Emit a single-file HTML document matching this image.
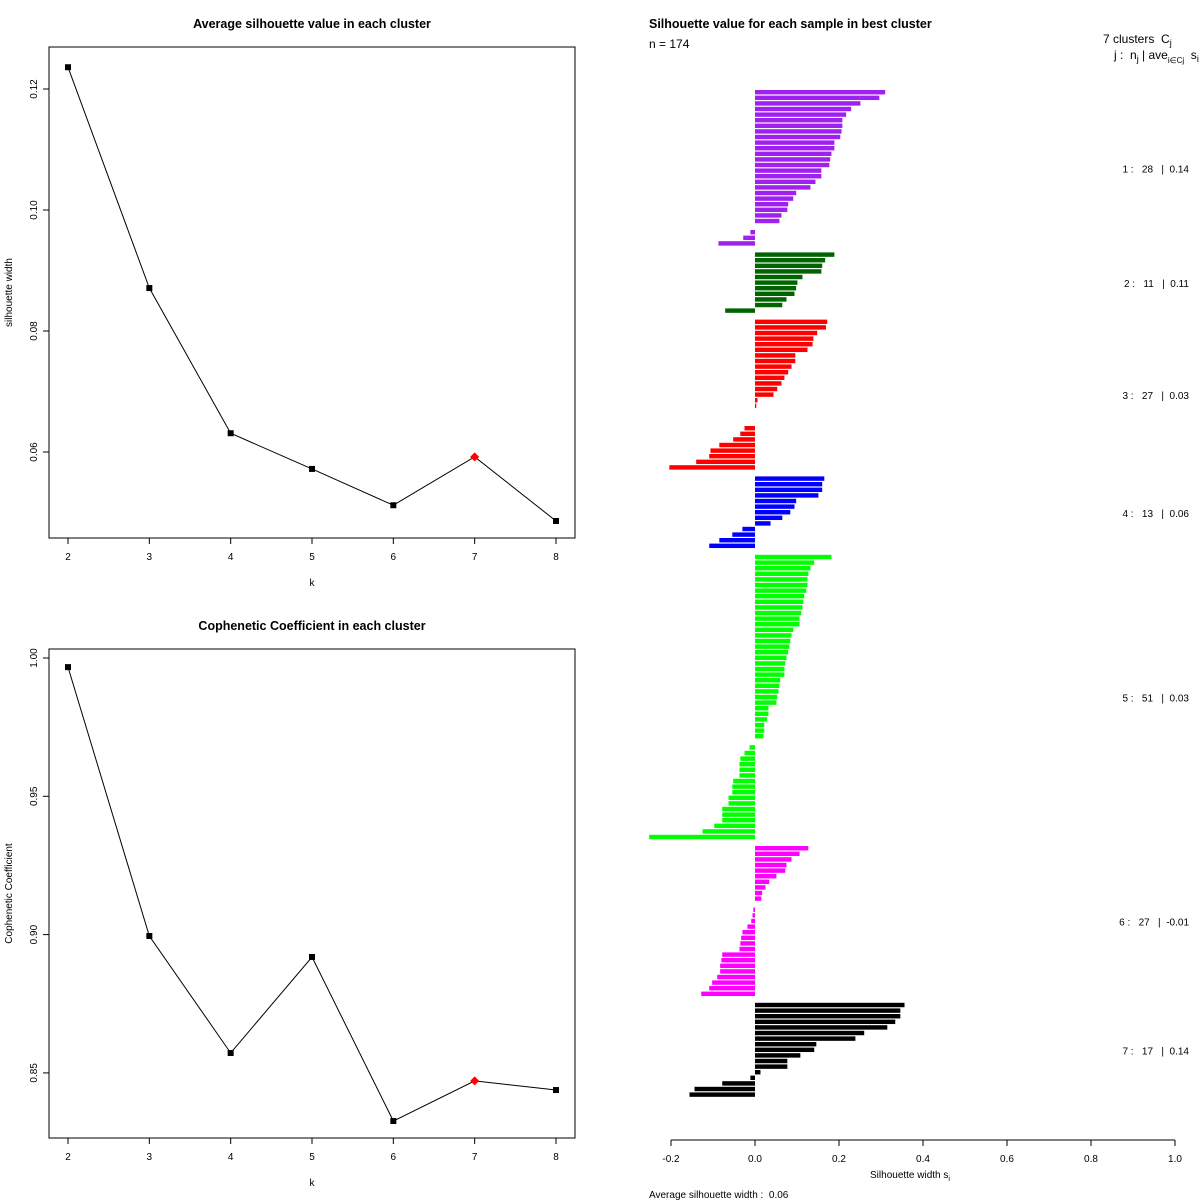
<!DOCTYPE html>
<html><head><meta charset="utf-8"><style>
html,body{margin:0;padding:0;background:#fff;}
svg{display:block;font-family:"Liberation Sans",sans-serif;}
text{white-space:pre;}
</style></head><body>
<svg id="chart" width="1200" height="1200" xmlns="http://www.w3.org/2000/svg"></svg>
<script>
// ---- data: average silhouette by k ----
const kValues = [2,3,4,5,6,7,8];
const silAvg = [0.1236,0.0871,0.0631,0.0572,0.0512,0.0592,0.0486];
const copheneticCoef = [0.9967,0.8995,0.8572,0.8919,0.8326,0.8471,0.8438];
const bestK = 7;
const silTicks = [0.06,0.08,0.10,0.12];
const copTicks = [0.85,0.90,0.95,1.00];
// ---- data: silhouette widths per cluster ----
const clusterIds = [1,2,3,4,5,6,7];
const clusterColors = ["#a020f0","#006400","#ff0000","#0000ff","#00ff00","#ff00ff","#000000"];
const clusterAvg = ["0.14","0.11","0.03","0.06","0.03","-0.01","0.14"];
const sil1 = [0.310,0.296,0.251,0.229,0.217,0.208,0.208,0.206,0.203,0.189,0.189,0.182,0.179,0.177,0.158,0.158,0.144,0.132,0.098,0.091,0.079,0.077,0.063,0.058,0,-0.011,-0.028,-0.087];
const sil2 = [0.189,0.167,0.160,0.158,0.113,0.101,0.098,0.094,0.075,0.065,-0.071];
const sil3 = [0.172,0.169,0.148,0.139,0.137,0.125,0.096,0.096,0.087,0.079,0.070,0.063,0.053,0.044,0.006,0.003,0,0,0,-0.025,-0.035,-0.052,-0.085,-0.106,-0.109,-0.140,-0.204];
const sil4 = [0.165,0.160,0.160,0.151,0.098,0.094,0.084,0.065,0.037,-0.030,-0.054,-0.085,-0.109];
const sil5 = [0.182,0.141,0.132,0.127,0.125,0.125,0.122,0.117,0.115,0.113,0.110,0.106,0.106,0.091,0.087,0.084,0.082,0.079,0.075,0.072,0.070,0.070,0.060,0.058,0.056,0.053,0.051,0.032,0.032,0.029,0.022,0.022,0.020,0,-0.013,-0.025,-0.035,-0.037,-0.037,-0.037,-0.052,-0.054,-0.054,-0.063,-0.063,-0.078,-0.078,-0.078,-0.097,-0.125,-0.252];
const sil6 = [0.127,0.106,0.087,0.075,0.072,0.051,0.034,0.025,0.017,0.015,0,-0.004,-0.006,-0.009,-0.018,-0.030,-0.033,-0.035,-0.037,-0.078,-0.080,-0.083,-0.083,-0.090,-0.102,-0.109,-0.128];
const sil7 = [0.356,0.346,0.346,0.334,0.315,0.260,0.239,0.146,0.141,0.108,0.077,0.077,0.013,-0.011,-0.078,-0.144,-0.156];
const silTicksX = [-0.2,0,0.2,0.4,0.6,0.8,1.0];
const silTickLabels = ["-0.2","0.0","0.2","0.4","0.6","0.8","1.0"];
const overallAvg = "0.06";

const NS="http://www.w3.org/2000/svg";
const svg=document.getElementById('chart');
function mk(tag,attrs,parent,text){const e=document.createElementNS(NS,tag);for(const k in attrs)e.setAttribute(k,attrs[k]);if(text!==undefined)e.textContent=text;(parent||svg).appendChild(e);return e;}

// ---- line panels ----
function linePanel(opts){
  const g=mk('g',{});
  
  
  const L=49,R=575,T=opts.top,B=opts.bottom;
  const x=k=>68+(k-2)*(556-68)/6;
  const y=v=>opts.y0+(opts.v0-v)*opts.scale;
  const box=mk('rect',{x:L,y:T,width:R-L,height:B-T,fill:'none',stroke:'#000','stroke-width':1},g);
  
  const tt=mk('text',{x:312,y:T-19,'text-anchor':'middle','font-size':12.5,'font-weight':'bold'},g,opts.title);
  
  kValues.forEach(k=>{
    mk('line',{x1:x(k),x2:x(k),y1:B,y2:B+6,stroke:'#000'},g);
    const t=mk('text',{x:x(k),y:B+22,'text-anchor':'middle','font-size':10},g,String(k));
    
  });
  opts.ticks.forEach(v=>{
    mk('line',{x1:L,x2:L-6,y1:y(v),y2:y(v),stroke:'#000'},g);
    const t=mk('text',{x:37,y:y(v),'text-anchor':'middle','font-size':10,transform:`rotate(-90 37 ${y(v)})`},g,opts.fmt(v));
    
  });
  const xl=mk('text',{x:312,y:B+48,'text-anchor':'middle','font-size':10},g,'k');
  
  const cy=(T+B)/2;
  const yl=mk('text',{x:12,y:cy,'text-anchor':'middle','font-size':10,transform:`rotate(-90 12 ${cy})`},g,opts.ylab);
  
  const pts=kValues.map((k,i)=>x(k)+','+y(opts.vals[i])).join(' ');
  const pl=mk('polyline',{points:pts,fill:'none',stroke:'#000','stroke-width':1},g);
  
  kValues.forEach((k,i)=>{
    const px=x(k),py=y(opts.vals[i]);
    let m;
    if(k===bestK){m=mk('polygon',{points:`${px},${py-4.5} ${px+4.5},${py} ${px},${py+4.5} ${px-4.5},${py}`,fill:'#ff0000'},g);}
    else{m=mk('rect',{x:px-3,y:py-3,width:6,height:6,fill:'#000'},g);}
    
  });
}
linePanel({name:'avg-silhouette-panel',top:47,bottom:538,title:'Average silhouette value in each cluster',ylab:'silhouette width',vals:silAvg,ticks:silTicks,y0:89,v0:0.12,scale:6050,fmt:v=>v.toFixed(2)});
linePanel({name:'cophenetic-panel',top:649,bottom:1138,title:'Cophenetic Coefficient in each cluster',ylab:'Cophenetic Coefficient',vals:copheneticCoef,ticks:copTicks,y0:658,v0:1.0,scale:2766,fmt:v=>v.toFixed(2)});

// ---- silhouette bar plot ----
const clusters=[sil1,sil2,sil3,sil4,sil5,sil6,sil7];
const sx=v=>755+v*420;
const step=1008/180, barH=step/1.2*0.95;
const sg=mk('g',{});


let pos=0;
clusters.forEach((arr,ci)=>{
  const start=pos;
  arr.forEach(v=>{
    const yTop=90+pos*step;
    const x0=Math.min(sx(0),sx(v)), w=Math.abs(sx(v)-sx(0));
    if(w>0){
      const b=mk('rect',{x:x0,y:yTop,width:w,height:barH,fill:clusterColors[ci]},sg);
      
      
    }
    pos++;
  });
  const mid=90+(start+arr.length/2)*step;
  const lab=mk('text',{x:1189,y:mid+4,'text-anchor':'end','font-size':10},sg,`${clusterIds[ci]} :   ${arr.length}   |  ${clusterAvg[ci]}`);
  
  
  pos++;
});
// axis
mk('line',{x1:sx(-0.2),x2:sx(1.0),y1:1140,y2:1140,stroke:'#000'},sg);
silTicksX.forEach((v,i)=>{
  mk('line',{x1:sx(v),x2:sx(v),y1:1140,y2:1146,stroke:'#000'},sg);
  const t=mk('text',{x:sx(v),y:1162,'text-anchor':'middle','font-size':10},sg,silTickLabels[i]);
  
});
let t;
t=mk('text',{x:910,y:1178,'text-anchor':'middle','font-size':10},svg);
t.innerHTML='Silhouette width s<tspan font-size="7" dy="3">i</tspan>';

t=mk('text',{x:649,y:1198,'font-size':10},svg,'Average silhouette width :  '+overallAvg);

t=mk('text',{x:649,y:28,'font-size':12.5,'font-weight':'bold'},svg,'Silhouette value for each sample in best cluster');

t=mk('text',{x:649,y:48,'font-size':12},svg,'n = 174');

t=mk('text',{x:1103,y:43,'font-size':12},svg);
t.innerHTML='7 clusters  C<tspan font-size="9" dy="3">j</tspan>';

t=mk('text',{x:1114,y:59,'font-size':12},svg);
t.innerHTML='j :  n<tspan font-size="9" dy="3">j</tspan><tspan dy="-3"> | ave</tspan><tspan font-size="8" dy="4">i∈Cj</tspan><tspan dy="-4">  s</tspan><tspan font-size="9" dy="3">i</tspan>';

</script>
</body></html>
